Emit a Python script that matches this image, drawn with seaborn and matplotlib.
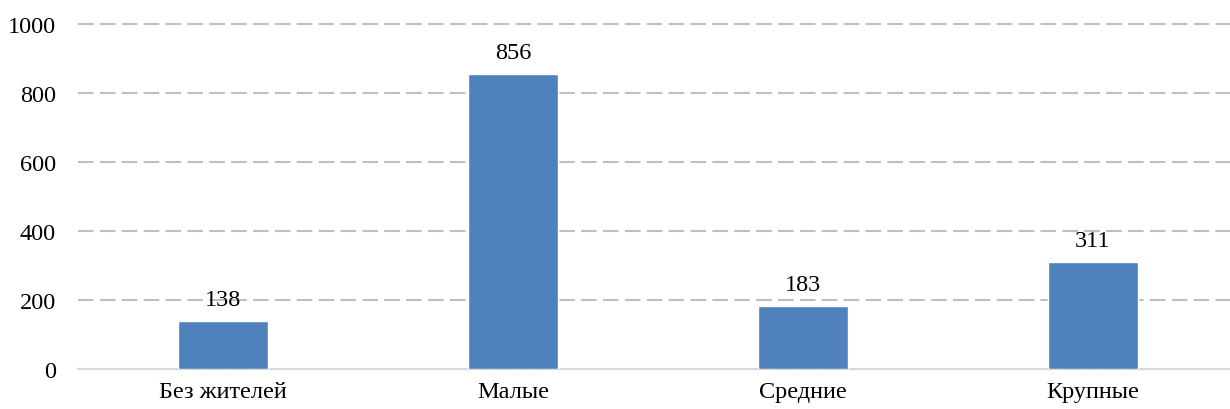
import matplotlib
matplotlib.use("Agg")
import matplotlib.pyplot as plt
import seaborn as sns
import pandas as pd

categories = ["Без жителей", "Малые", "Средние", "Крупные"]
values = [138, 856, 183, 311]
yticks = [0, 200, 400, 600, 800, 1000]

sns.set_style("white")
plt.rcParams['font.family'] = ['Liberation Serif', 'DejaVu Serif']
plt.rcParams['text.color'] = 'black'
plt.rcParams['xtick.color'] = 'black'
plt.rcParams['ytick.color'] = 'black'

df = pd.DataFrame({"cat": categories, "val": values})

fig = plt.figure(figsize=(12.3, 4.1), dpi=100)
ax = fig.add_axes([0.0634, 0.0976, 0.943, 0.8415])

sns.barplot(data=df, x="cat", y="val", color="#4F81BD", saturation=1,
            width=0.31, ax=ax, zorder=3)

ax.set_ylim(0, 1000)
ax.set_xlim(-0.5, 3.5)
ax.set_yticks(yticks)
ax.set_yticklabels([str(t) for t in yticks], fontsize=17.5)
ax.tick_params(axis='x', labelsize=17.5, length=0, pad=9, colors='black')
ax.tick_params(axis='y', length=0, pad=16, colors='black')
ax.set_xlabel("")
ax.set_ylabel("")

# dashed horizontal grid, top line not clipped by the axes edge
ax.yaxis.grid(True, color="#BFBFBF", linestyle=(0, (7.5, 3)), linewidth=1.5, zorder=0)
ax.set_axisbelow(True)
for gl in ax.get_ygridlines():
    gl.set_clip_on(False)

for s in ["top", "right", "left"]:
    ax.spines[s].set_visible(False)
ax.spines["bottom"].set_color("#D9D9D9")
ax.spines["bottom"].set_linewidth(1.5)

ax.bar_label(ax.containers[0], fmt="%d", padding=8, fontsize=17.5, color='black')

fig.savefig("out.png", dpi=100)
